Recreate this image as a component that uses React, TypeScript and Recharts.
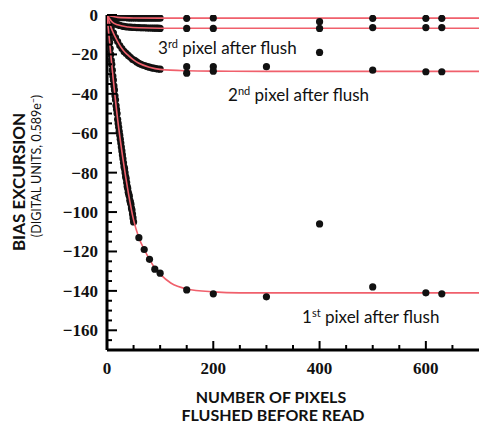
import { ScatterChart, Scatter, XAxis, YAxis } from 'recharts'

// 1st pixel after flush: dense run 0..50 (step 1) then sparse points
const p1DenseX = [
  0, 1, 2, 3, 4, 5, 6, 7, 8, 9, 10, 11, 12, 13, 14, 15, 16, 17, 18, 19, 20, 21, 22, 23, 24, 25,
  26, 27, 28, 29, 30, 31, 32, 33, 34, 35, 36, 37, 38, 39, 40, 41, 42, 43, 44, 45, 46, 47, 48, 49, 50,
]
const p1DenseY = [
  -1, -3, -6, -9, -12, -14, -17, -20, -23, -25, -28, -31, -33, -36, -38, -41, -43, -46, -48, -50,
  -53, -55, -57, -59, -61, -63, -65, -67, -69, -71, -73, -75, -77, -78, -80, -82, -83, -85, -87,
  -88, -90, -91, -92, -94, -95, -96, -98, -99, -101, -103, -105,
]
const p1SparseX = [60, 70, 80, 90, 100, 150, 200, 300, 400, 500, 600, 630]
const p1SparseY = [-113, -119, -124, -129, -131, -139.5, -141.5, -143, -106, -138, -141, -141.5]
const p1FitX = [0, 10, 20, 30, 40, 50, 60, 70, 80, 90, 100, 120, 150, 200, 250, 300, 400, 500, 600, 700]
const p1FitY = [0, -28, -53, -73, -90, -104, -113, -119, -124, -128.5, -131.5, -136, -139, -140.5, -141, -141, -141, -141, -141, -141]

// 2nd pixel after flush
const p2DenseX = [0, 4, 8, 12, 16, 20, 24, 28, 32, 36, 40, 44, 48, 52, 56, 60, 64, 68, 72, 76, 80, 84, 88, 92, 96, 100]
const p2DenseY = [
  -0.5, -3.5, -6.5, -9, -11.5, -13.5, -15.5, -17, -18.5, -19.5, -20.5, -21.5, -22.5, -23, -23.8,
  -24.5, -25, -25.5, -25.8, -26.2, -26.5, -26.8, -27, -27.2, -27.4, -27.5,
]
const p2SparseX = [150, 150, 200, 200, 300, 500, 600, 630]
const p2SparseY = [-26.2, -29.5, -26.2, -28.5, -26.2, -28, -28.8, -28.8]
const p2FitX = [0, 10, 20, 30, 40, 50, 60, 80, 100, 150, 200, 300, 400, 500, 600, 700]
const p2FitY = [0, -8, -13.5, -17.8, -20.5, -22.8, -24.5, -26.5, -27.6, -28.3, -28.5, -28.6, -28.6, -28.6, -28.6, -28.6]

// 3rd pixel after flush
const p3DenseX = [0, 4, 8, 12, 16, 20, 24, 28, 32, 36, 40, 44, 48, 52, 56, 60, 64, 68, 72, 76, 80, 84, 88, 92, 96, 100]
const p3DenseY = [
  -0.5, -2, -3, -3.8, -4.4, -4.9, -5.3, -5.6, -5.8, -6, -6.1, -6.2, -6.3, -6.3, -6.4, -6.4, -6.5,
  -6.5, -6.5, -6.6, -6.6, -6.6, -6.7, -6.7, -6.7, -6.8,
]
const p3SparseX = [150, 200, 400, 400, 500, 600, 630]
const p3SparseY = [-6.8, -6.8, -6.8, -19, -6.4, -6.4, -6.4]
const p3FitX = [0, 10, 20, 40, 60, 100, 200, 400, 700]
const p3FitY = [0, -3.6, -5, -6.1, -6.5, -6.7, -6.7, -6.7, -6.7]

// later pixels
const p4DenseX = [0, 4, 8, 12, 16, 20, 24, 28, 32, 36, 40, 44, 48, 52, 56, 60, 64, 68, 72, 76, 80, 84, 88, 92, 96, 100]
const p4DenseY = [
  -0.3, -0.6, -0.8, -1, -1.1, -1.2, -1.3, -1.3, -1.4, -1.4, -1.5, -1.5, -1.5, -1.5, -1.5, -1.6,
  -1.6, -1.6, -1.6, -1.6, -1.6, -1.6, -1.6, -1.6, -1.6, -1.6,
]
const p4SparseX = [150, 200, 400, 500, 600, 630]
const p4SparseY = [-1.7, -1.5, -3.4, -1.7, -1.7, -1.7]
const p4FitX = [0, 20, 50, 100, 700]
const p4FitY = [0, -1.2, -1.5, -1.6, -1.6]

const xTicks = [0, 50, 100, 150, 200, 250, 300, 350, 400, 450, 500, 550, 600, 650]
const xLabels = [0, 200, 400, 600]
const yTicks = [
  -165, -160, -155, -150, -145, -140, -135, -130, -125, -120, -115, -110, -105, -100, -95, -90, -85,
  -80, -75, -70, -65, -60, -55, -50, -45, -40, -35, -30, -25, -20, -15, -10, -5, 0,
]

const pts = (xs: number[], ys: number[]) => xs.map((x, i) => ({ x, y: ys[i] }))

const RED = '#f0606c'
const serifStyle = { fontFamily: '"Times New Roman", "Liberation Serif", serif', fontWeight: 700, fontSize: 17 }
const sans = 'Lato, "Open Sans", sans-serif'

const Dot = (p: any) => <circle cx={p.cx} cy={p.cy} r={3.6} fill="#111" />
const SmallDot = (p: any) => <circle cx={p.cx} cy={p.cy} r={3.6} fill="#111" />
const NoDot = () => <g />

const BottomTick = ({ x, y, payload }: any) => {
  const major = xLabels.includes(payload.value)
  return (
    <g>
      <line x1={x} x2={x} y1={y} y2={y - (major ? 9 : 5)} stroke="#000" strokeWidth={2} />
      {major && (
        <text x={x} y={y + 24} textAnchor="middle" style={serifStyle} fill="#111">
          {payload.value}
        </text>
      )}
    </g>
  )
}

const TopTick = ({ x, y, payload }: any) => {
  const major = xLabels.includes(payload.value)
  return <line x1={x} x2={x} y1={y} y2={y + (major ? 8 : 5)} stroke="#000" strokeWidth={2} />
}

const LeftTick = ({ x, y, payload }: any) => {
  const v = payload.value
  const major = v % 20 === 0
  return (
    <g>
      <line x1={x} x2={x + (major ? 10 : 5)} y1={y} y2={y} stroke="#000" strokeWidth={2} />
      {major && (
        <text x={x - 9} y={y + 6} textAnchor="end" style={serifStyle} fill="#111">
          {v === 0 ? '0' : '\u2212' + Math.abs(v)}
        </text>
      )}
    </g>
  )
}

const RightTick = ({ x, y, payload }: any) => {
  const major = payload.value % 20 === 0
  return <line x1={x} x2={x - (major ? 9 : 5)} y1={y} y2={y} stroke="#000" strokeWidth={2} />
}

export default function App() {
  const fitLine = { stroke: RED, strokeWidth: 1.6 }
  return (
    <div style={{ position: 'absolute', left: 0, top: 0, width: 482, height: 425, background: '#fff' }}>
      <ScatterChart width={482} height={425} margin={{ top: 15, right: 3, bottom: 45, left: 47 }}>
        <XAxis
          type="number"
          dataKey="x"
          domain={[0, 700]}
          ticks={xTicks}
          interval={0}
          height={30}
          tickSize={0}
          tickMargin={0}
          tickLine={false}
          tick={BottomTick}
          axisLine={{ stroke: '#000', strokeWidth: 3 }}
          allowDataOverflow
        />
        <XAxis
          xAxisId="top"
          orientation="top"
          type="number"
          dataKey="x"
          domain={[0, 700]}
          ticks={xTicks}
          interval={0}
          height={0}
          tickSize={0}
          tickMargin={0}
          tickLine={false}
          tick={TopTick}
          axisLine={{ stroke: '#000', strokeWidth: 3 }}
          allowDataOverflow
        />
        <YAxis
          type="number"
          dataKey="y"
          domain={[-170, 0]}
          ticks={yTicks}
          interval={0}
          width={60}
          tickSize={0}
          tickMargin={0}
          tickLine={false}
          tick={LeftTick}
          axisLine={{ stroke: '#000', strokeWidth: 3 }}
          allowDataOverflow
        />
        <YAxis
          yAxisId="right"
          orientation="right"
          type="number"
          dataKey="y"
          domain={[-170, 0]}
          ticks={yTicks}
          interval={0}
          width={0}
          tickSize={0}
          tickMargin={0}
          tickLine={false}
          tick={RightTick}
          axisLine={{ stroke: '#000', strokeWidth: 3 }}
          allowDataOverflow
        />
        <Scatter data={pts(p1DenseX, p1DenseY)} shape={SmallDot} isAnimationActive={false} />
        <Scatter data={pts(p2DenseX, p2DenseY)} shape={SmallDot} isAnimationActive={false} />
        <Scatter data={pts(p3DenseX, p3DenseY)} shape={SmallDot} isAnimationActive={false} />
        <Scatter data={pts(p4DenseX, p4DenseY)} shape={SmallDot} isAnimationActive={false} />
        <Scatter data={pts(p1FitX, p1FitY)} line={fitLine} lineJointType="monotoneX" shape={NoDot} isAnimationActive={false} />
        <Scatter data={pts(p2FitX, p2FitY)} line={fitLine} lineJointType="monotoneX" shape={NoDot} isAnimationActive={false} />
        <Scatter data={pts(p3FitX, p3FitY)} line={fitLine} lineJointType="monotoneX" shape={NoDot} isAnimationActive={false} />
        <Scatter data={pts(p4FitX, p4FitY)} line={fitLine} lineJointType="monotoneX" shape={NoDot} isAnimationActive={false} />
        <Scatter data={pts(p1SparseX, p1SparseY)} shape={Dot} isAnimationActive={false} />
        <Scatter data={pts(p2SparseX, p2SparseY)} shape={Dot} isAnimationActive={false} />
        <Scatter data={pts(p3SparseX, p3SparseY)} shape={Dot} isAnimationActive={false} />
        <Scatter data={pts(p4SparseX, p4SparseY)} shape={Dot} isAnimationActive={false} />
      </ScatterChart>
      <svg width={482} height={425} style={{ position: 'absolute', left: 0, top: 0, pointerEvents: 'none' }}>
        <g style={{ fontFamily: sans, fontSize: 17 }} fill="#111">
          <text x={158} y={54}>
            3<tspan dy={-6} fontSize={11}>rd</tspan>
            <tspan dy={6}> pixel after flush</tspan>
          </text>
          <text x={228} y={101}>
            2<tspan dy={-6} fontSize={11}>nd</tspan>
            <tspan dy={6}> pixel after flush</tspan>
          </text>
          <text x={302} y={323}>
            1<tspan dy={-6} fontSize={11}>st</tspan>
            <tspan dy={6}> pixel after flush</tspan>
          </text>
        </g>
        <g style={{ fontFamily: sans, fontWeight: 700, fontSize: 16 }} fill="#111" textAnchor="middle">
          <text x={271} y={403}>NUMBER OF PIXELS</text>
          <text x={273} y={421}>FLUSHED BEFORE READ</text>
        </g>
        <text
          transform="translate(25,182) rotate(-90)"
          style={{ fontFamily: sans, fontWeight: 700, fontSize: 17 }}
          textAnchor="middle"
          fill="#111"
        >
          BIAS EXCURSION
        </text>
        <text
          transform="translate(41,166) rotate(-90)"
          style={{ fontFamily: sans, fontSize: 12.5 }}
          textAnchor="middle"
          fill="#111"
        >
          (DIGITAL UNITS, 0.589e<tspan dy={-4} fontSize={8.5}>−</tspan>
          <tspan dy={4}>)</tspan>
        </text>
      </svg>
    </div>
  )
}
